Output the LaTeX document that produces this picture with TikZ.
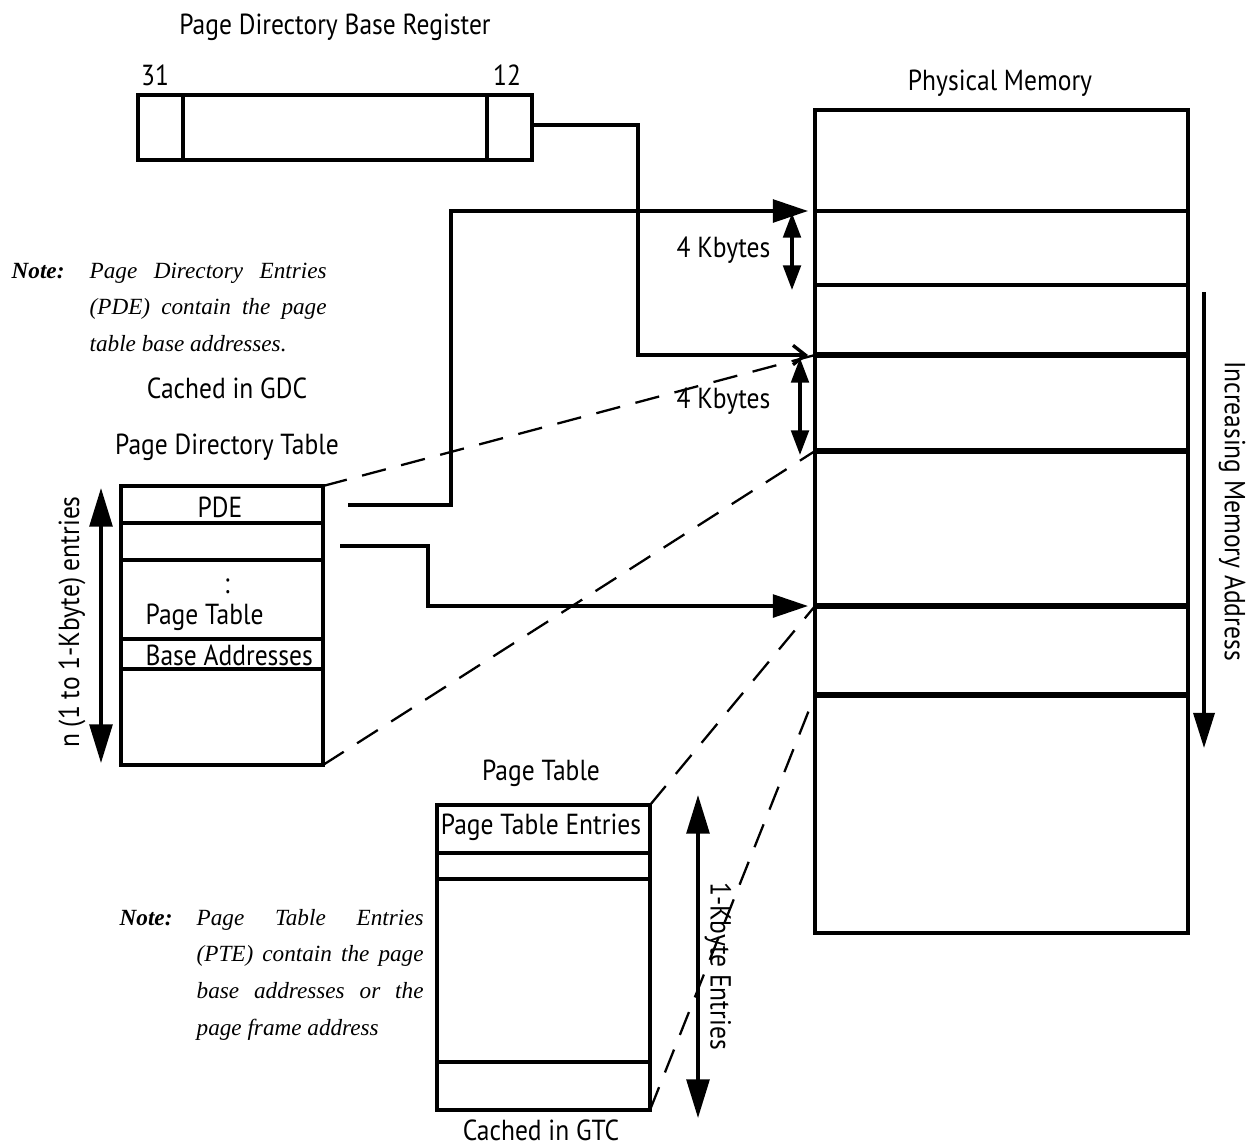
\documentclass[tikz,border=0pt]{standalone}
\usepackage{fontspec}
\setmainfont[FakeStretch=0.88]{PT Sans}
\newfontfamily\notefont{Liberation Serif}
\usetikzlibrary{arrows.meta}

\begin{document}
\begin{tikzpicture}[x=0.02cm, y=-0.02cm, line width=1.9pt,
	lbl/.style={inner sep=0pt, font=\fontsize{16.5}{19}\selectfont},
	note/.style={inner sep=0pt, anchor=base west, font=\notefont\fontsize{13.2}{21}\selectfont},
	heavy/.style={line width=3.4pt},
	guide/.style={line width=1.3pt, dash pattern=on 14pt off 9pt},
	bigtip/.style={-{Triangle[length=20pt,width=13pt]}, shorten >=4pt},
	opentip/.style={-{Straight Barb[length=7pt,width=11pt]}, shorten >=4pt},
	span/.style={{Triangle[length=14pt,width=10pt]}-{Triangle[length=14pt,width=10pt]}},
	longspan/.style={{Triangle[length=22pt,width=13pt]}-{Triangle[length=22pt,width=13pt]}}]

\useasboundingbox (0,0) rectangle (1253,1146);

% coordinates %{{{2

	\coordinate (R1) at (138,95);
	\coordinate (R2) at (532,160);
	\coordinate (R12) at (532,125);
	\coordinate (J1) at (638,125);

	\coordinate (M0) at (815,110);
	\coordinate (M7) at (1188,933);
	\coordinate (M1) at (815,211);
	\coordinate (M2) at (815,285);
	\coordinate (M3) at (815,355);
	\coordinate (M4) at (815,451);
	\coordinate (M5) at (815,606);
	\coordinate (M6) at (815,695);

	\coordinate (D0) at (121,486);
	\coordinate (D9) at (323,765);
	\coordinate (D1) at (348,505);
	\coordinate (J2) at (451,505);
	\coordinate (D2) at (340,546);
	\coordinate (J3) at (428,546);

	\coordinate (T0) at (437,805);
	\coordinate (T9) at (650,1110);

% register %{{{2

	\draw (R1) rectangle (R2);
	\draw (183,95) -- (183,160);
	\draw (487,95) -- (487,160);

	\node[lbl] (regtitle) at (335,27) {Page Directory Base Register};
	\node[lbl] (bit31) at (155,75) {31};
	\node[lbl] (bit12) at (507,75) {12};

% physical memory %{{{2

	\draw (M0) rectangle (M7);
	\draw (M1) -- (1187,211);
	\draw (M2) -- (1187,285);
	\foreach \i in {3,...,6} { \draw[heavy] (M\i) -- (M\i -| M7); }

	\node[lbl] (memtitle) at (1000,83) {Physical Memory};

	\draw[-{Triangle[length=20pt,width=12pt]}] (1204,292) coordinate (A0) -- (1204,748) coordinate (A1);
	\node[lbl, rotate=-90] (incr) at (1232,511) {Increasing Memory Address};

	\draw[span] (792,213) coordinate (K0) -- (792,290) coordinate (K1);
	\node[lbl, anchor=east] (kb1) at (772,250) {4 Kbytes};
	\draw[span] (800,358) coordinate (K2) -- (800,455) coordinate (K3);
	\node[lbl, anchor=east] (kb2) at (772,401) {4 Kbytes};

% page directory table %{{{2

	\draw (D0) rectangle (D9);
	\foreach \y in {523,560,639,669} { \draw (121,\y) -- (323,\y); }

	\node[lbl] (gdc) at (227,388) {Cached in GDC};
	\node[lbl] (pdttitle) at (227,447) {Page Directory Table};
	\node[lbl] (pde) at (220,507) {PDE};
	\node[lbl] (dots) at (227,586) {:};
	\node[lbl, anchor=west] (ptba) at (144,617) {Page Table};
	\node[lbl, anchor=west] (ba) at (144,655) {Base Addresses};

	\draw[longspan] (101,488) coordinate (N0) -- (101,763) coordinate (N1);
	\node[lbl, rotate=90] (nent) at (72,622) {n (1 to 1-Kbyte) entries};

% page table %{{{2

	\draw (T0) rectangle (T9);
	\foreach \y in {853,879,1062} { \draw (437,\y) -- (650,\y); }

	\node[lbl] (pttitle) at (541,773) {Page Table};
	\node[lbl] (pte) at (541,827) {Page Table Entries};
	\node[lbl] (gtc) at (541,1130) {Cached in GTC};

	\draw[longspan] (698,795) coordinate (E0) -- (698,1118) coordinate (E1);
	\node[lbl, rotate=-90] (kent) at (718,966) {1-Kbyte Entries};

% pointers %{{{2

	\draw[opentip] (R12) -- (J1) |- (M3);
	\draw[bigtip] (D1) -- (J2) |- (M1);
	\draw[bigtip] (D2) -- (J3) |- (M5);

% dashed guides %{{{2

	\draw[guide] (D0 -| D9) -- (M3);
	\draw[guide] (D9) -- (M4);
	\draw[guide] (T9 |- T0) -- (M5);
	\draw[guide] (T9) -- (M6);

% notes %{{{2

	\node[note] (note1) at (10,278) {\begin{tabular}[t]{@{}p{1.56cm}@{}p{4.74cm}@{}}
		\textbf{\itshape Note:} & \itshape Page Directory Entries\linebreak (PDE) contain the page\linebreak table base addresses.
	\end{tabular}};

	\node[note] (note2) at (118,925) {\begin{tabular}[t]{@{}p{1.54cm}@{}p{4.54cm}@{}}
		\textbf{\itshape Note:} & \itshape Page Table Entries\linebreak (PTE) contain the page\linebreak base addresses or the\linebreak page frame address
	\end{tabular}};

% closing %{{{2

\end{tikzpicture}
\end{document}
